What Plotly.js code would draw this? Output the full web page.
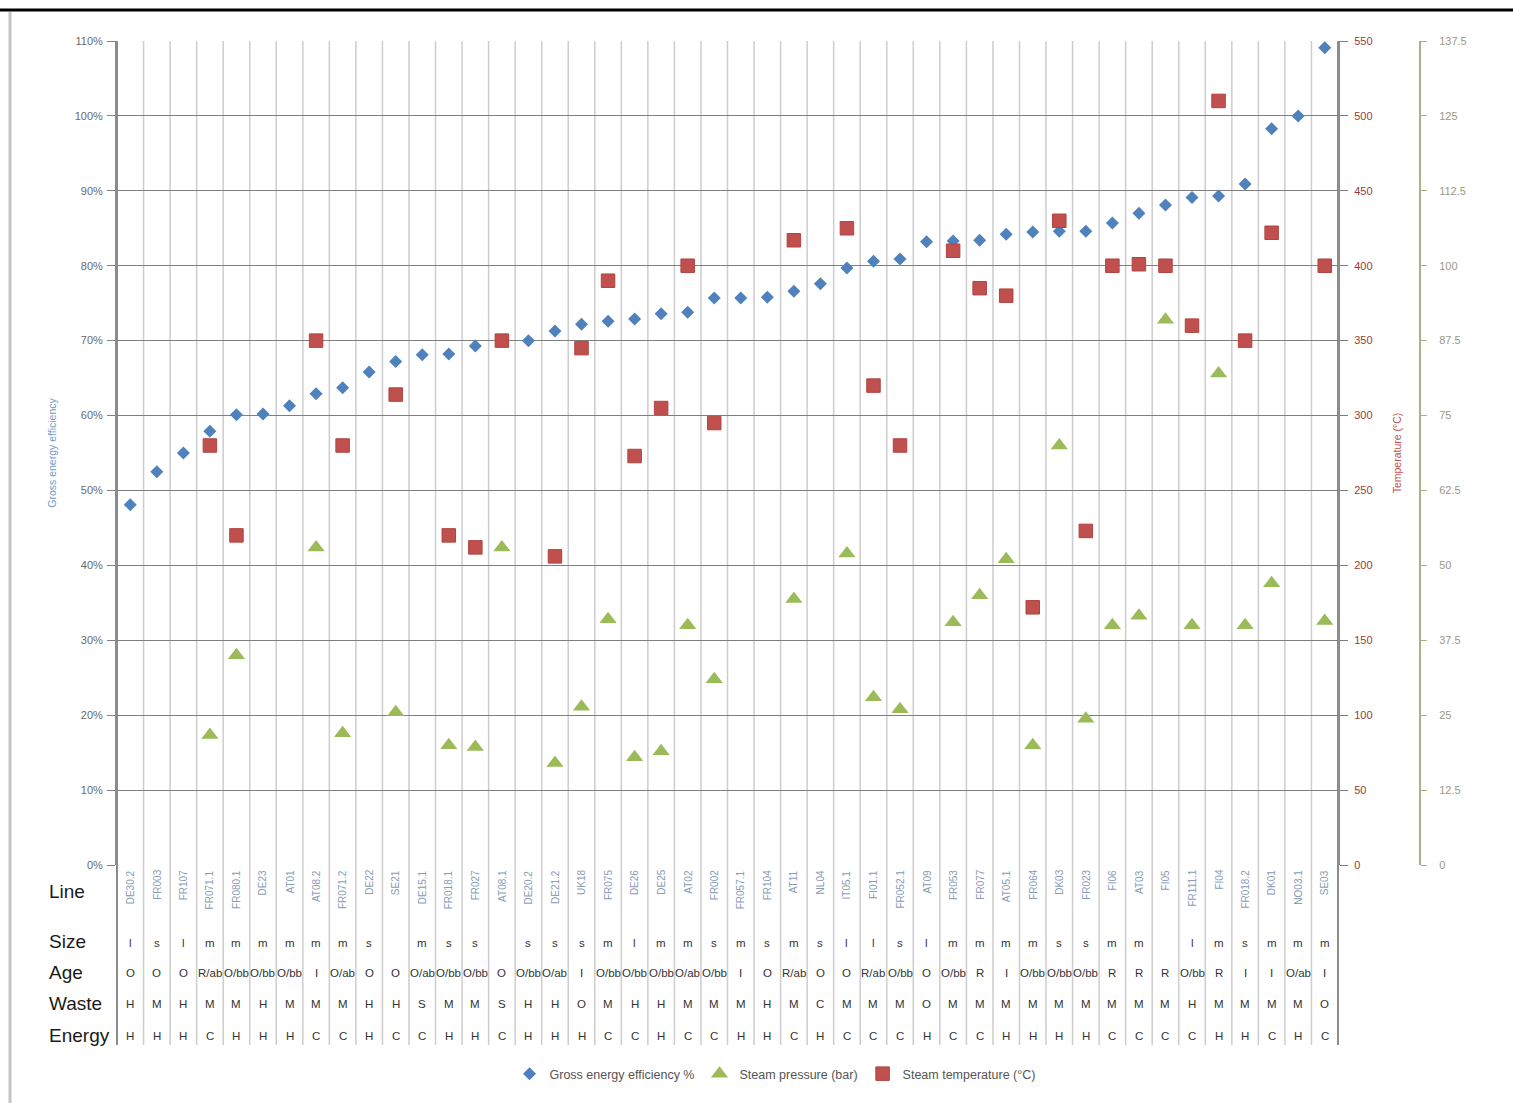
<!DOCTYPE html>
<html>
<head>
<meta charset="utf-8">
<script src="https://cdn.plot.ly/plotly-3.0.1.min.js"></script>
<style>
html,body{margin:0;padding:0;background:#fff;}
#chart{width:1513px;height:1103px;}
</style>
</head>
<body>
<div id="chart"></div>
<script>
const lines = ["DE30.2","FR003","FR107","FR071.1","FR080.1","DE23","AT01","AT08.2","FR071.2","DE22","SE21","DE15.1","FR018.1","FR027","AT08.1","DE20.2","DE21.2","UK18","FR075","DE26","DE25","AT02","FR002","FR057.1","FR104","AT11","NL04","IT05.1","FI01.1","FR052.1","AT09","FR053","FR077","AT05.1","FR064","DK03","FR023","FI06","AT03","FI05","FR111.1","FI04","FR018.2","DK01","NO03.1","SE03"];
const sizes = ["l","s","l","m","m","m","m","m","m","s","","m","s","s","","s","s","s","m","l","m","m","s","m","s","m","s","l","l","s","l","m","m","m","m","s","s","m","m","","l","m","s","m","m","m"];
const ages = ["O","O","O","R/ab","O/bb","O/bb","O/bb","I","O/ab","O","O","O/ab","O/bb","O/bb","O","O/bb","O/ab","I","O/bb","O/bb","O/bb","O/ab","O/bb","I","O","R/ab","O","O","R/ab","O/bb","O","O/bb","R","I","O/bb","O/bb","O/bb","R","R","R","O/bb","R","I","I","O/ab","I"];
const wastes = ["H","M","H","M","M","H","M","M","M","H","H","S","M","M","S","H","H","O","M","H","H","M","M","M","H","M","C","M","M","M","O","M","M","M","M","M","M","M","M","M","H","M","M","M","M","O"];
const energies = ["H","H","H","C","H","H","H","C","C","H","C","C","H","H","C","H","H","H","C","C","H","C","C","H","H","C","H","C","C","C","H","C","C","H","H","H","H","C","C","C","C","H","H","C","H","C"];

const efficiency = [0.481,0.525,0.550,0.579,0.601,0.602,0.613,0.629,0.637,0.658,0.672,0.681,0.682,0.693,0.700,0.700,0.713,0.722,0.726,0.729,0.736,0.738,0.757,0.757,0.758,0.766,0.776,0.797,0.806,0.809,0.832,0.833,0.834,0.842,0.845,0.846,0.846,0.857,0.870,0.881,0.891,0.893,0.909,0.983,1.000,1.091];
const steamPressure = [null,null,null,21.7,35,null,null,53,22,null,25.5,null,20,19.7,53,null,17,26.4,41,18,19,40,31,null,null,44.4,null,52,28,26,null,40.5,45,51,20,70,24.4,40,41.6,91,40,82,40,47,null,40.7];
const steamTemp = [null,null,null,280,220,null,null,350,280,null,314,null,220,212,350,null,206,345,390,273,305,400,295,null,null,417,null,425,320,280,null,410,385,380,172,430,223,400,401,400,360,510,350,422,null,400];

const rowNames = ["Line","Size","Age","Waste","Energy"];

// geometry helpers
const W = 1513, H = 1103, ML = 117, MR = 93, MT = 41, MB = 238;
const PW = W - ML - MR, PH = H - MT - MB;
const plotRight = 1338;
const d = (plotRight - ML) / PW;
const px = p => (p - ML) / PW;
const py = p => (H - MB - p) / PH;
const n = lines.length;

const shapes = [];
for (let i = 0; i <= n; i++) {
  const edge = (i === 0 || i === n);
  shapes.push({type:'line', xref:'paper', yref:'paper', layer:'below',
    x0: d*i/n, x1: d*i/n, y0: py(1045), y1: 1,
    line:{color: edge ? '#8c8c8c' : '#cdcdcd', width: edge ? 2 : 1.5}});
}
// outer frame of the pasted chart
shapes.push({type:'line', xref:'paper', yref:'paper', x0: px(0), x1: px(W), y0: py(10), y1: py(10), line:{color:'#000', width:3}});
shapes.push({type:'line', xref:'paper', yref:'paper', x0: px(10), x1: px(10), y0: py(12), y1: py(H), line:{color:'#c4c4c4', width:3}});

const annotations = [];
const rowY = [891, 942, 972, 1003, 1035];
rowNames.forEach((r, k) => {
  annotations.push({xref:'paper', yref:'paper', x: px(47), y: py(rowY[k]), xanchor:'left', yanchor:'middle',
    text: r, showarrow:false, font:{family:'Liberation Sans, Arial', size:19, color:'#1a1a1a'}});
});
const rows = [sizes, ages, wastes, energies];
lines.forEach((name, i) => {
  annotations.push({xref:'x', yref:'paper', x: name, y: py(868), xanchor:'center', yanchor:'top', textangle:-90,
    text: name, showarrow:false, font:{family:'Liberation Sans, Arial', size:10, color:'#8a9bb5'}});
  rows.forEach((arr, k) => {
    if (arr[i]) annotations.push({xref:'x', yref:'paper', x: name, y: py(rowY[k+1] + 1), xanchor:'center', yanchor:'middle',
      text: arr[i], showarrow:false, font:{family:'Liberation Sans, Arial', size:11.5, color:'#333'}});
  });
});

const traces = [
  {type:'scatter', mode:'markers', name:'Gross energy efficiency %', x: lines, y: efficiency, yaxis:'y',
   marker:{symbol:'diamond', size:10, color:'#4f81bd'}},
  {type:'scatter', mode:'markers', name:'Steam pressure (bar)', x: lines, y: steamPressure, yaxis:'y3',
   marker:{symbol:'triangle-up', size:15, color:'#9bbb59'}},
  {type:'scatter', mode:'markers', name:'Steam temperature (°C)', x: lines, y: steamTemp, yaxis:'y2',
   marker:{symbol:'square', size:13.5, color:'#c0504d', line:{color:'#b04441', width:1}}}
];

const tickFont = {family:'Liberation Sans, Arial', size:11};
const layout = {
  width: W, height: H,
  margin: {l: ML, r: MR, t: MT, b: MB, pad: 0},
  paper_bgcolor: '#fff', plot_bgcolor: 'rgba(0,0,0,0)',
  showlegend: true,
  legend: {orientation:'h', x: px(775), xanchor:'center', y: py(1074), yanchor:'middle',
    font:{family:'Liberation Sans, Arial', size:12.5, color:'#555'}, itemwidth:30, bgcolor:'rgba(0,0,0,0)'},
  xaxis: {type:'category', domain:[0, d], range:[-0.5, n - 0.5], showgrid:false, zeroline:false,
    showticklabels:false, ticks:'', showline:false, fixedrange:true},
  yaxis: {range:[0, 1.1], dtick:0.1, tick0:0, tickformat:'.0%', showgrid:true, gridcolor:'#7f7f7f', gridwidth:1,
    zeroline:false, showline:true, linecolor:'#8c8c8c', linewidth:2, ticks:'outside', ticklen:8, tickcolor:'#7f7f7f',
    tickfont:{...tickFont, color:'#6a6a6a'}, ticklabelstandoff:2,
    title:{text:'Gross energy efficiency', standoff:16, font:{family:'Liberation Sans, Arial', size:10.5, color:'#6f9cc9'}}},
  yaxis2: {range:[0, 550], dtick:50, tick0:0, overlaying:'y', side:'right', anchor:'x', showgrid:false, zeroline:false,
    showline:true, linecolor:'#8c8c8c', linewidth:2, ticks:'outside', ticklen:8, tickcolor:'#7f7f7f',
    tickfont:{...tickFont, color:'#9b3a38'}, ticklabelstandoff:4,
    title:{text:'Temperature (°C)', standoff:22, font:{family:'Liberation Sans, Arial', size:10.5, color:'#c0504d'}}},
  yaxis3: {range:[0, 137.5], dtick:12.5, tick0:0, overlaying:'y', side:'right', anchor:'free', position:1,
    showgrid:false, zeroline:false, showline:true, linecolor:'#aab08c', linewidth:2, ticks:'outside', ticklen:6,
    tickcolor:'#aab08c', tickfont:{...tickFont, color:'#9a9a86'}, ticklabelstandoff:10},
  shapes: shapes,
  annotations: annotations
};

Plotly.newPlot('chart', traces, layout, {displayModeBar:false, staticPlot:true});
</script>
</body>
</html>
